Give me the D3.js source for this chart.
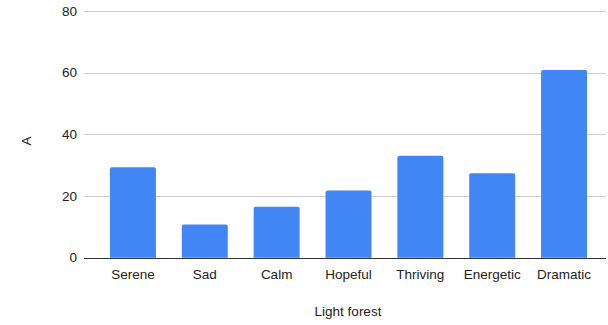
<!DOCTYPE html>
<html>
<head>
<meta charset="utf-8">
<script src="https://cdn.jsdelivr.net/npm/d3@7"></script>
<style>
  body { margin: 0; background: #fff; }
  text { font-family: "Liberation Sans", Arial, sans-serif; }
</style>
</head>
<body>
<svg id="chart"></svg>
<script>
/* Data */
const categories = ['Serene', 'Sad', 'Calm', 'Hopeful', 'Thriving', 'Energetic', 'Dramatic'];
const values = [29.3, 10.8, 16.5, 21.8, 33.1, 27.4, 60.9];
const yTicks = [0, 20, 40, 60, 80];
const xTitle = 'Light forest';
const yTitle = 'A';

const W = 608, H = 325;
const svg = d3.select('#chart').attr('width', W).attr('height', H);

/* Scales */
const x = d3.scaleBand()
    .domain(categories)
    .range([97, 600])
    .paddingInner(0.36)
    .paddingOuter(0.18);

const y = d3.scaleLinear()
    .domain([0, 80])
    .range([257.7, 11]);

/* Gridlines */
svg.append('g')
    .selectAll('line')
    .data(yTicks.filter(d => d !== 0))
    .join('line')
    .attr('x1', 84)
    .attr('x2', 606)
    .attr('y1', d => Math.round(y(d)) + 0.5)
    .attr('y2', d => Math.round(y(d)) + 0.5)
    .attr('stroke', '#cccccc')
    .attr('stroke-width', 1);

/* Y tick labels */
svg.append('g')
    .selectAll('text')
    .data(yTicks)
    .join('text')
    .attr('x', 77)
    .attr('y', d => y(d))
    .attr('dy', '0.35em')
    .attr('text-anchor', 'end')
    .style('font-size', '13.5px')
    .style('fill', '#222')
    .text(d => d);

/* Bars */
svg.append('g')
    .selectAll('path')
    .data(categories.map((c, i) => ({ c: c, v: values[i] })))
    .join('path')
    .attr('fill', '#4285f4')
    .attr('d', d => {
        const x0 = x(d.c), w = x.bandwidth(), y0 = y(d.v), y1 = y(0), r = 2;
        return `M${x0},${y1}V${y0 + r}Q${x0},${y0} ${x0 + r},${y0}H${x0 + w - r}Q${x0 + w},${y0} ${x0 + w},${y0 + r}V${y1}Z`;
    });

/* Baseline */
svg.append('line')
    .attr('x1', 84)
    .attr('x2', 606)
    .attr('y1', Math.round(y(0)) + 0.5)
    .attr('y2', Math.round(y(0)) + 0.5)
    .attr('stroke', '#333')
    .attr('stroke-width', 1);

/* X category labels */
svg.append('g')
    .selectAll('text')
    .data(categories)
    .join('text')
    .attr('x', d => x(d) + x.bandwidth() / 2)
    .attr('y', 278.5)
    .attr('text-anchor', 'middle')
    .style('font-size', '13.5px')
    .style('fill', '#222')
    .text(d => d);

/* Axis titles */
svg.append('text')
    .attr('x', 348)
    .attr('y', 316)
    .attr('text-anchor', 'middle')
    .style('font-size', '13.5px')
    .style('fill', '#222')
    .text(xTitle);

svg.append('text')
    .attr('transform', 'translate(31,141) rotate(-90)')
    .attr('text-anchor', 'middle')
    .style('font-size', '13.5px')
    .style('fill', '#222')
    .text(yTitle);
</script>
</body>
</html>
